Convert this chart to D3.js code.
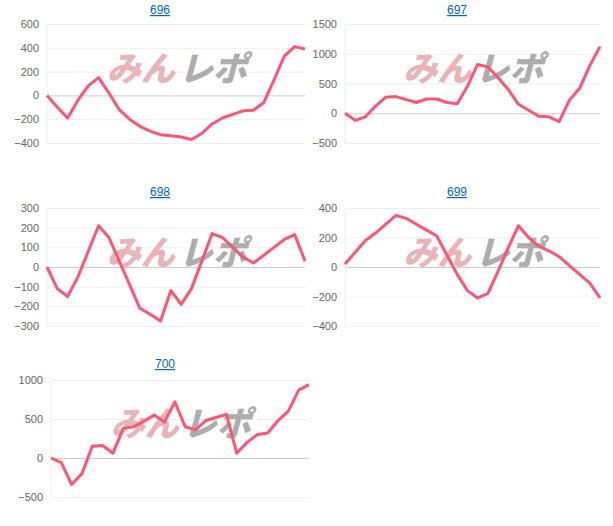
<!DOCTYPE html>
<html><head><meta charset="utf-8">
<script src="https://cdn.jsdelivr.net/npm/d3@7"></script>
<style>body{margin:0;background:#fff;font-family:Arial,"Liberation Sans",sans-serif}</style>
</head><body><svg id="chart" width="613" height="526"></svg>
<script>
const titles = ["696", "697", "698", "699", "700"];
const s696 = [0,-100,-190,-40,80,150,20,-120,-200,-260,-300,-330,-340,-350,-370,-320,-240,-190,-160,-130,-125,-60,130,330,410,390];
const s697 = [0,-120,-60,120,270,280,230,180,240,240,180,160,450,820,780,600,400,150,50,-50,-60,-140,220,420,800,1120];
const s698 = [0,-110,-150,-50,80,210,150,30,-90,-210,-240,-275,-120,-190,-110,30,170,150,100,50,20,60,100,140,165,30];
const s699 = [20,100,180,230,290,350,330,290,250,210,80,-50,-160,-210,-180,-30,130,280,200,140,110,70,10,-50,-110,-210];
const s700 = [0,-60,-340,-200,150,160,60,380,400,470,550,460,720,400,360,480,520,560,60,200,300,320,480,600,870,940];
const series = [s696, s697, s698, s699, s700];
const yTicks = [[-400,-200,0,200,400,600],[-500,0,500,1000,1500],[-300,-200,-100,0,100,200,300],[-400,-200,0,200,400],[-500,0,500,1000]];
const panels = [
  {x0:47, x1:305, yTop:24, yBot:143, ty:10, tx:160},
  {x0:345, x1:600, yTop:24, yBot:143, ty:10, tx:457},
  {x0:47, x1:305, yTop:208, yBot:326, ty:192, tx:160},
  {x0:345, x1:600, yTop:208, yBot:326, ty:192, tx:457},
  {x0:51, x1:309, yTop:380, yBot:497, ty:364, tx:165}
];
const svg = d3.select("#chart");

panels.forEach((p, k) => {
  const data = series[k], ticks = yTicks[k];
  const x = d3.scaleLinear().domain([0, data.length - 1]).range([p.x0, p.x1]);
  const y = d3.scaleLinear().domain(d3.extent(ticks)).range([p.yBot, p.yTop]);
  const g = svg.append("g");

  g.append("text").attr("x", p.tx).attr("y", p.ty + 4)
    .attr("text-anchor", "middle").attr("fill", "#0066cc").attr("font-size", 12)
    .attr("text-decoration", "underline").text(titles[k]);

  const ax = g.append("g").attr("transform", `translate(${p.x0},0)`)
    .call(d3.axisLeft(y).tickValues(ticks).tickFormat(d3.format("d")).tickSize(-(p.x1 - p.x0)).tickPadding(8));
  ax.select(".domain").remove();
  ax.selectAll(".tick line").attr("stroke", d => d === 0 ? "#ccc" : "#eee");
  ax.selectAll(".tick text").attr("fill", "#666").attr("font-size", 11);
  g.append("line").attr("x1", p.x0).attr("x2", p.x0).attr("y1", p.yTop).attr("y2", p.yBot).attr("stroke", "#eee");

  // watermark
  const wm = g.append("g").attr("transform", `translate(${(p.x0 + p.x1) / 2 + 4},${(p.yTop + p.yBot) / 2 - 14}) skewX(-15)`)
    .attr("font-size", 34).attr("font-weight", 900).attr("font-family", "'Noto Sans CJK JP',sans-serif");
  wm.append("text").attr("x", -2).attr("text-anchor", "end").attr("dy", "0.35em").attr("fill", "#e8b4b7").text("みん");
  wm.append("text").attr("x", 2).attr("text-anchor", "start").attr("dy", "0.35em").attr("fill", "#adadad").text("レポ");

  g.append("path").datum(data)
    .attr("fill", "none").attr("stroke", "#ff5573").attr("stroke-width", 3).attr("stroke-linejoin", "round")
    .attr("d", d3.line().x((d, i) => x(i)).y(d => y(d)));
});
</script></body></html>
